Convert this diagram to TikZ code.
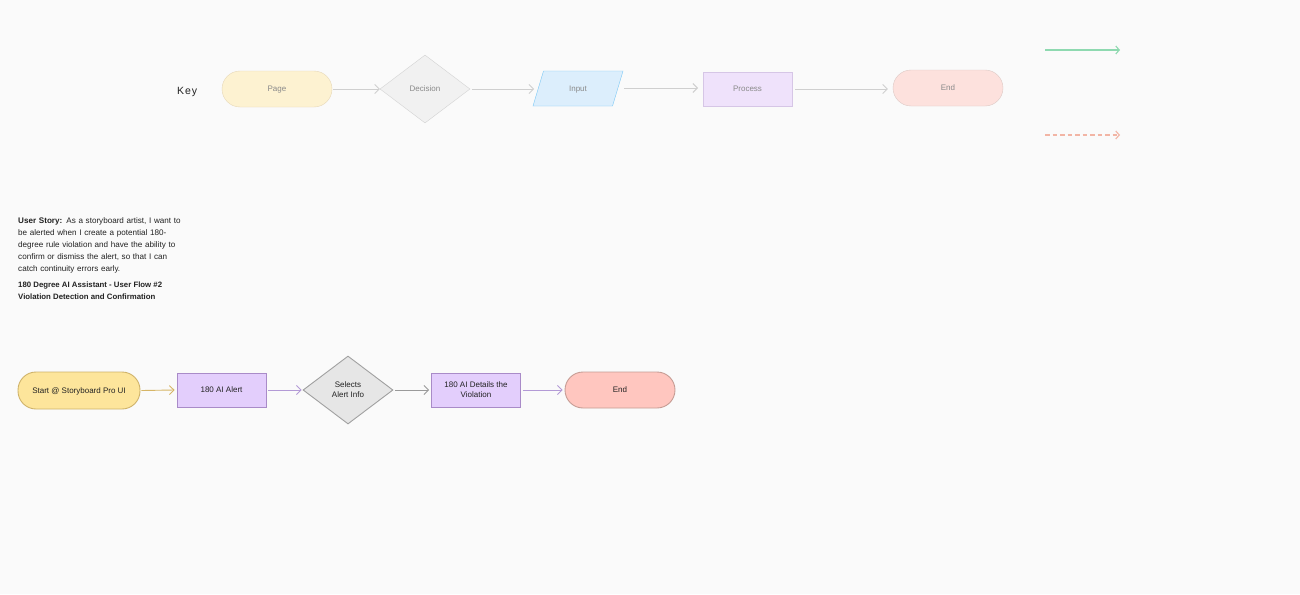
\documentclass[tikz,border=0pt]{standalone}
\usepackage{fontspec}
\setmainfont{Liberation Sans}
\usetikzlibrary{shapes.geometric,arrows.meta}
\definecolor{bg}{HTML}{FAFAFA}
\definecolor{pagefill}{HTML}{FDF2D1}
\definecolor{pagedraw}{HTML}{E6D8B8}
\definecolor{decfill}{HTML}{F1F1F1}
\definecolor{decdraw}{HTML}{D3D3D3}
\definecolor{inpfill}{HTML}{DCEEFC}
\definecolor{inpdraw}{HTML}{7CC8F5}
\definecolor{procfill}{HTML}{EFE2FB}
\definecolor{procdraw}{HTML}{D6C6E6}
\definecolor{endfill}{HTML}{FDE1DD}
\definecolor{enddraw}{HTML}{DDC9C5}
\definecolor{keyarrow}{HTML}{CFCFCF}
\definecolor{keytext}{HTML}{8A8A8A}
\definecolor{greenline}{HTML}{8ED9B0}
\definecolor{pinkline}{HTML}{F2B5A5}
\definecolor{startfill}{HTML}{FDE59B}
\definecolor{startdraw}{HTML}{CFB36A}
\definecolor{alertfill}{HTML}{E3CEFC}
\definecolor{alertdraw}{HTML}{A98BC8}
\definecolor{sdecfill}{HTML}{E6E6E6}
\definecolor{sdecdraw}{HTML}{A0A0A0}
\definecolor{sendfill}{HTML}{FFC6BF}
\definecolor{senddraw}{HTML}{C69C94}
\definecolor{purplearrow}{HTML}{B39AD6}
\definecolor{goldarrow}{HTML}{D6B566}
\definecolor{greyarrow}{HTML}{9A9A9A}
\definecolor{darktext}{HTML}{222222}
\tikzset{
  base/.style={inner sep=0pt, align=center, font=\fontsize{8}{10}\selectfont},
  oneline/.style={text height=5.8pt, text depth=0pt},
  twoline/.style={text height=15.8pt, text depth=0pt},
  keytxt/.style={text=keytext},
  pagebox/.style={base, oneline, keytxt, draw=pagedraw, fill=pagefill, rounded corners=18pt, minimum width=110pt, minimum height=36pt},
  decbox/.style={base, oneline, keytxt, diamond, draw=decdraw, fill=decfill, minimum width=90pt, minimum height=68pt, shape aspect=1.32},
  inpbox/.style={base, oneline, keytxt, trapezium, trapezium left angle=65, trapezium right angle=115, trapezium stretches=true, draw=inpdraw, fill=inpfill, minimum width=90pt, minimum height=35pt},
  procbox/.style={base, oneline, keytxt, draw=procdraw, fill=procfill, minimum width=89pt, minimum height=34pt},
  endbox/.style={base, oneline, keytxt, draw=enddraw, fill=endfill, rounded corners=18pt, minimum width=110pt, minimum height=36pt},
  keyarr/.style={draw=keyarrow, line width=0.9pt, -{Straight Barb[length=4.5pt,width=9pt]}},
  sbase/.style={base, text=darktext, line width=0.9pt},
  startbox/.style={sbase, oneline, draw=startdraw, fill=startfill, rounded corners=18pt, minimum width=122pt, minimum height=37pt},
  alertbox/.style={sbase, draw=alertdraw, fill=alertfill, minimum width=89pt, minimum height=34pt},
  sdecbox/.style={sbase, twoline, diamond, draw=sdecdraw, fill=sdecfill, minimum width=90pt, minimum height=68pt, shape aspect=1.32},
  sendbox/.style={sbase, oneline, draw=senddraw, fill=sendfill, rounded corners=18pt, minimum width=110pt, minimum height=36pt},
  flowarr/.style={line width=0.9pt, -{Straight Barb[length=4.5pt,width=9pt]}},
}
\begin{document}
\begin{tikzpicture}[x=1pt,y=-1pt]
\fill[bg] (0,0) rectangle (1300,594);
\useasboundingbox (0,0) rectangle (1300,594);
% Key row
\node[font=\fontsize{10.5}{13}\selectfont, text=darktext, anchor=west, inner sep=0pt, text height=7.5pt, text depth=0pt] (key) at (177,91) {K\kern0.9pt e\kern0.9pt y};
\node[pagebox] (kpage) at (277,89) {Page};
\node[decbox] (kdec) at (425,89) {Decision};
\node[inpbox] (kinp) at (578,88.5) {Input};
\node[procbox] (kproc) at (747.5,89) {Process};
\node[endbox] (kend) at (948,88) {End};
\draw[keyarr] ([xshift=1pt]kpage.east) -- (kdec.west);
\draw[keyarr] ([xshift=2pt]kdec.east) -- ([xshift=-4pt]kinp.west |- kdec.east);
\coordinate (i1) at (624,88);
\coordinate (i2) at (698,88);
\draw[keyarr] (i1) -- (i2);
\draw[keyarr] ([xshift=3pt]kproc.east) -- ([xshift=-5pt]kend.west |- kproc.east);
% legend lines
\coordinate (g1) at (1045,50);
\coordinate (g2) at (1120,50);
\coordinate (p1) at (1045,135);
\coordinate (p2) at (1120,135);
\draw[draw=greenline, line width=1.1pt, -{Straight Barb[length=3.5pt,width=8pt]}] (g1) -- (g2);
\draw[draw=pinkline, line width=1.1pt, dash pattern=on 4.5pt off 3pt, -{Straight Barb[length=3.5pt,width=8pt]}] (p1) -- (p2);
% User story
\node[anchor=north west, inner sep=0pt, text=darktext, font=\fontsize{8.1}{12}\selectfont, align=left, text width=185pt] (story) at (18,217.5)
{\textbf{User Story:} As a storyboard artist, I want to\\
be alerted when I create a potential 180-\\
degree rule violation and have the ability to\\
confirm or dismiss the alert, so that I can\\
catch continuity errors early.};
\node[anchor=north west, inner sep=0pt, text=darktext, font=\bfseries\fontsize{7.8}{12}\selectfont, align=left] (title) at (18,281.5)
{180 Degree AI Assistant - User Flow \#2\\
Violation Detection and Confirmation};
% Flow
\node[startbox] (start) at (79,390.5) {Start @ Storyboard Pro UI};
\node[alertbox, oneline] (alert) at (221.5,390) {180 AI Alert};
\node[sdecbox] (sel) at (348,390) {Selects\\Alert Info};
\node[alertbox, twoline] (det) at (476,390) {180 AI Details the\\Violation};
\node[sendbox] (send) at (620,390) {End};
\draw[flowarr, draw=goldarrow] ([xshift=1pt]start.east) -- ([xshift=-2pt]alert.west);
\draw[flowarr, draw=purplearrow] ([xshift=2pt]alert.east) -- ([xshift=-1pt]sel.west);
\draw[flowarr, draw=greyarrow] ([xshift=2pt]sel.east) -- ([xshift=-2pt]det.west);
\draw[flowarr, draw=purplearrow] ([xshift=2pt]det.east) -- ([xshift=-2pt]send.west);
\end{tikzpicture}
\end{document}
